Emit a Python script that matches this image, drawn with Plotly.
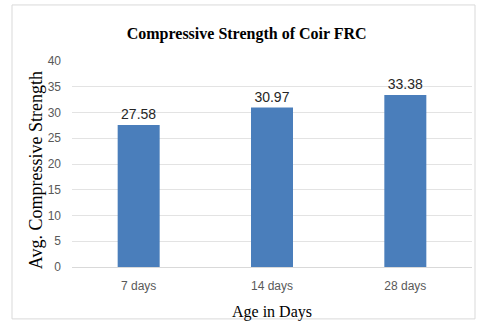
import plotly.graph_objects as go

# Compressive strength of coir fibre-reinforced concrete by curing age
ages = ["7 days", "14 days", "28 days"]
strength = [27.58, 30.97, 33.38]
y_ticks = [0, 5, 10, 15, 20, 25, 30, 35, 40]

serif = "Liberation Serif, Times New Roman"
sans = "Liberation Sans, Arial"

fig = go.Figure(
    go.Bar(
        x=ages,
        y=strength,
        text=[f"{v:.2f}" for v in strength],
        textposition="outside",
        textfont=dict(family=sans, size=14, color="#262626"),
        marker=dict(color="#4A7EBB", line=dict(width=0)),
        cliponaxis=False,
    )
)

fig.update_layout(
    width=479,
    height=321,
    margin=dict(l=72, r=7, t=61, b=54),
    paper_bgcolor="white",
    plot_bgcolor="white",
    bargap=0.685,
    showlegend=False,
    title=dict(
        text="<b>Compressive Strength of Coir FRC</b>",
        font=dict(family=serif, size=16, color="black"),
        x=0.515, xanchor="center", xref="container",
        y=0.897, yanchor="middle", yref="container",
    ),
    xaxis=dict(
        title=dict(text="Age in Days",
                   font=dict(family=serif, size=16, color="black"),
                   standoff=14),
        tickfont=dict(family=sans, size=12, color="#595959"),
        ticklabelstandoff=8,
        automargin=False,
        showgrid=False,
        showline=True, linecolor="#D9D9D9", linewidth=1,
        ticks="",
    ),
    yaxis=dict(
        range=[0, 40],
        tickvals=y_ticks,
        tickfont=dict(family=sans, size=12, color="#595959"),
        ticklabelstandoff=10,
        automargin=False,
        showgrid=True, gridcolor="#E3E3E3", gridwidth=1,
        zeroline=False,
        ticks="", ticklen=0,
    ),
    annotations=[
        dict(text="Avg. Compressive Strength", textangle=-90,
             xref="paper", yref="paper", x=-0.09, y=0.47,
             xanchor="center", yanchor="middle", showarrow=False,
             font=dict(family=serif, size=18, color="black")),
    ],
    shapes=[
        dict(type="rect", xref="paper", yref="paper",
             x0=-0.15, x1=1.0075, y0=-0.252, y1=1.272,
             line=dict(color="#D9D9D9", width=1), fillcolor="rgba(0,0,0,0)", layer="below"),
    ],
)

fig.write_html("out.html")
